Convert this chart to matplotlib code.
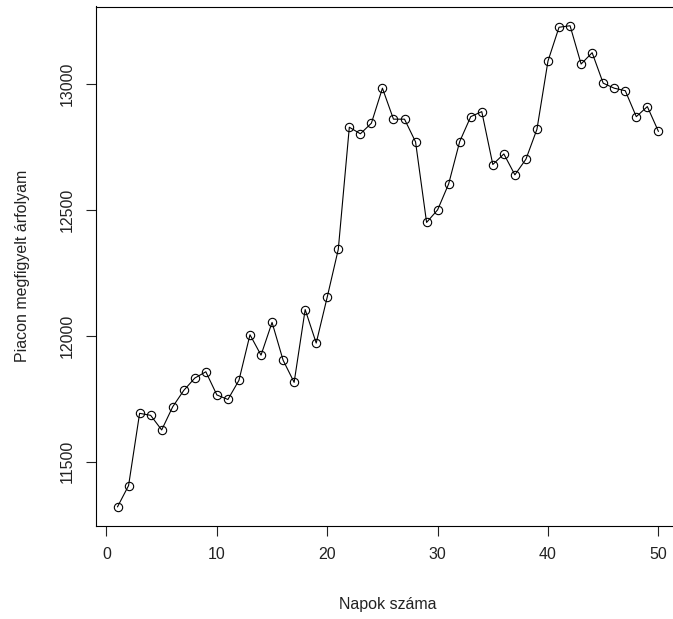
import numpy as np
import matplotlib
matplotlib.use("Agg")
import matplotlib.pyplot as plt

plt.rcParams['font.family'] = ['Liberation Sans', 'DejaVu Sans']

# Napi piaci árfolyamok
napok = list(range(1, 51))
arfolyam = [11321, 11405, 11692, 11684, 11626, 11718, 11783, 11832, 11857, 11765,
            11747, 11823, 12004, 11923, 12053, 11903, 11815, 12104, 11971, 12154,
            12343, 12828, 12802, 12844, 12983, 12860, 12860, 12770, 12450, 12500,
            12603, 12771, 12870, 12890, 12680, 12722, 12639, 12701, 12820, 13091,
            13225, 13231, 13079, 13124, 13003, 12983, 12973, 12870, 12910, 12812]

W, H = 673, 619
fig = plt.figure(figsize=(W / 100, H / 100), dpi=100)
# R-style plot region (right side runs past the image edge)
ax = fig.add_axes([95.9 / W, 1 - 526 / H, (680 - 95.9) / W, (526 - 6.5) / H])

ax.plot(napok, arfolyam, color='black', linewidth=0.8,
        marker='o', markersize=6, markerfacecolor='none',
        markeredgecolor='black', markeredgewidth=0.8)

# 4% extension like R's default axis range
xr = max(napok) - min(napok)
yr = max(arfolyam) - min(arfolyam)
ax.set_xlim(min(napok) - 0.04 * xr, max(napok) + 0.04 * xr)
ax.set_ylim(min(arfolyam) - 0.04 * yr, max(arfolyam) + 0.04 * yr)

ax.set_xticks([0, 10, 20, 30, 40, 50])
ax.set_yticks([11500, 12000, 12500, 13000])
ax.tick_params(direction='out', length=7, width=0.8, labelsize=11.5, pad=8,
               colors='#222222')
for lab in ax.get_yticklabels():
    lab.set_rotation(90)
    lab.set_va('center')
for s in ax.spines.values():
    s.set_linewidth(0.8)
ax.spines['right'].set_visible(False)

ax.set_xlabel('Napok száma', fontsize=11.5, labelpad=25, color='#222222')
ax.set_ylabel('Piacon megfigyelt árfolyam', fontsize=11.5, labelpad=22,
              color='#222222')

fig.savefig('out.png', dpi=100)
